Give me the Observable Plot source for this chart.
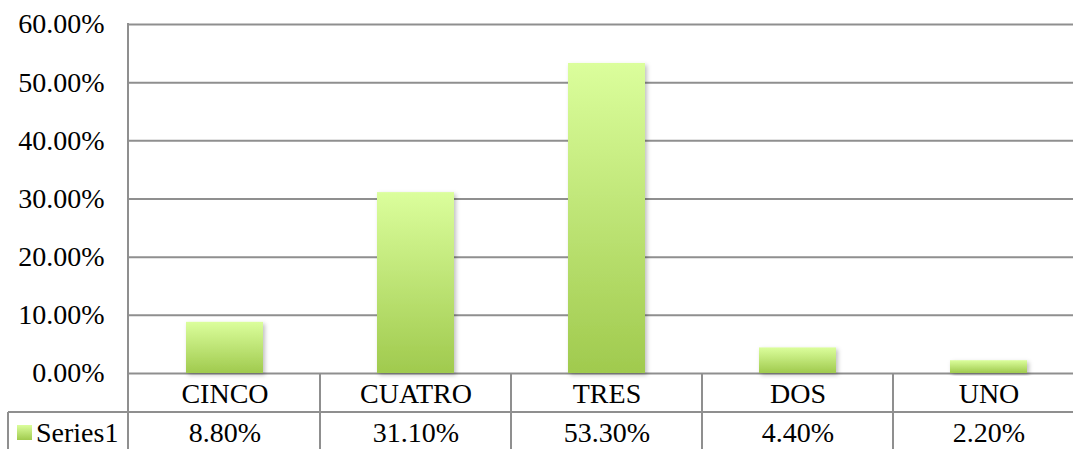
<!DOCTYPE html>
<html>
<head>
<meta charset="utf-8">
<script src="https://cdn.jsdelivr.net/npm/d3@7"></script>
<script src="https://cdn.jsdelivr.net/npm/@observablehq/plot@0.6"></script>
<style>
  html, body { margin: 0; padding: 0; background: #fff; overflow: hidden; }
  svg { font-family: "Liberation Serif", "DejaVu Serif", serif; }
</style>
</head>
<body>
<div id="chart"></div>
<script>
const categories = ["CINCO", "CUATRO", "TRES", "DOS", "UNO"];
const values = [0.088, 0.311, 0.533, 0.044, 0.022];
const valueLabels = ["8.80%", "31.10%", "53.30%", "4.40%", "2.20%"];
const yTicks = [0, 0.1, 0.2, 0.3, 0.4, 0.5, 0.6];
const seriesName = "Series1";

const data = categories.map((c, i) => ({category: c, value: values[i], label: valueLabels[i]}));

const W = 1073, H = 449;
const gridColor = "#8f8f8f";
const fontSize = 28;

const chart = Plot.plot({
  width: W,
  height: H,
  marginLeft: 128,
  marginRight: -12,
  marginTop: 24,
  marginBottom: 76,
  style: {fontFamily: "'Liberation Serif', serif", fontSize: fontSize + "px", color: "#000", background: "#fff", overflow: "visible"},
  x: {domain: categories, padding: 0, axis: null},
  y: {domain: [0, 0.6], ticks: yTicks, tickFormat: d3.format(".2%"), tickSize: 0, tickPadding: 24, label: null},
  marks: [
    Plot.ruleY(yTicks, {stroke: gridColor, strokeWidth: 2, strokeOpacity: 1}),
    Plot.barY(data, {x: "category", y: "value", fill: "url(#barGrad)", insetLeft: 57, insetRight: 57, filter: d => d.value > 0}),
    Plot.text(data, {x: "category", y: () => 0, text: "category", dy: 21, fontSize: fontSize, fill: "#000"}),
    Plot.text(data, {x: "category", y: () => 0, text: "label", dy: 60, fontSize: fontSize, fill: "#000"})
  ]
});

const svg = d3.select(chart);
svg.style("font-size", fontSize + "px");
svg.selectAll("g[aria-label='y-axis tick label']").attr("font-size", fontSize);

const defs = svg.insert("defs", ":first-child");
const grad = defs.append("linearGradient").attr("id", "barGrad").attr("x1", 0).attr("y1", 0).attr("x2", 0).attr("y2", 1);
grad.append("stop").attr("offset", "0%").attr("stop-color", "#dbfe9c");
grad.append("stop").attr("offset", "100%").attr("stop-color", "#a0ca4e");
const filt = defs.append("filter").attr("id", "shadow").attr("x", "-20%").attr("y", "-20%").attr("width", "140%").attr("height", "140%");
filt.append("feDropShadow").attr("dx", 2).attr("dy", 2).attr("stdDeviation", 2).attr("flood-color", "#000").attr("flood-opacity", 0.25);
svg.selectAll("g[aria-label='bar'] rect").attr("filter", "url(#shadow)");

// Data table lines drawn from the chart's scales
const xs = chart.scale("x"), ys = chart.scale("y");
const left = xs.range[0], right = xs.range[1];
const step = xs.step;
const y0 = ys.apply(0), yTop = ys.apply(0.6);
const rowH = 39;
const y1 = y0 + rowH;
const legendLeft = 8;
const lines = svg.append("g").attr("stroke", gridColor).attr("stroke-width", 2).attr("fill", "none");
lines.append("line").attr("x1", left).attr("x2", left).attr("y1", yTop - 1).attr("y2", H + 5);
lines.append("line").attr("x1", legendLeft).attr("x2", right).attr("y1", y1).attr("y2", y1);
lines.append("line").attr("x1", legendLeft).attr("x2", legendLeft).attr("y1", y1).attr("y2", H + 5);
categories.forEach((c, i) => {
  const xb = xs.apply(c) + step;
  lines.append("line").attr("x1", xb).attr("x2", xb).attr("y1", y0).attr("y2", H + 5);
});

// legend cell
const lg = svg.append("g").attr("text-anchor", "start");
lg.append("rect").attr("x", 17).attr("y", y1 + 13).attr("width", 15).attr("height", 15).attr("fill", "url(#barGrad)");
lg.append("text").attr("x", 36).attr("y", y1 + 20).attr("dy", "0.35em").attr("text-anchor", "start").attr("font-size", fontSize).attr("fill", "#000").text(seriesName);

document.getElementById("chart").appendChild(chart);
</script>
</body>
</html>
